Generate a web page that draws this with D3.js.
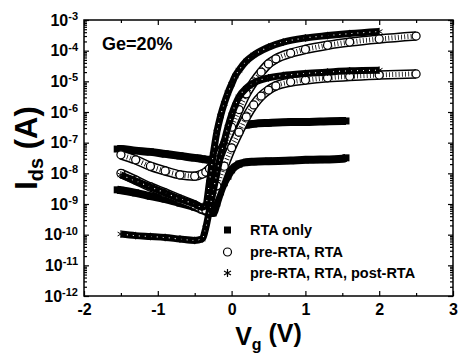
<!DOCTYPE html>
<html><head><meta charset="utf-8">
<script src="https://cdn.jsdelivr.net/npm/d3@7"></script>
<style>
body{margin:0;background:#fff}
text{font-family:"Liberation Sans",Arial,sans-serif;font-weight:bold;fill:#000}
</style>
</head><body><svg id="c" width="461" height="357"></svg>
<script>
// ---- data ----
const xTicks = [-2, -1, 0, 1, 2, 3];
const yTicks = [1e-12,1e-11,1e-10,1e-9,1e-8,1e-7,1e-6,1e-5,1e-4,1e-3];
const seriesNames = ["RTA only", "pre-RTA, RTA", "pre-RTA, RTA, post-RTA"];

const vgRTA = [-1.55,-1.5,-1.3,-1.1,-0.9,-0.7,-0.5,-0.4,-0.3,-0.25,-0.2,-0.15,-0.1,-0.05,0,0.1,0.2,0.3,0.5,0.8,1.0,1.2,1.5,1.55];
const idRTAhigh = [6.2e-8,6.2e-8,5.5e-8,5.0e-8,4.3e-8,3.7e-8,3.2e-8,2.95e-8,2.75e-8,2.95e-8,4.0e-8,5.8e-8,9.1e-8,1.4e-7,2.1e-7,3.2e-7,3.8e-7,4.1e-7,4.4e-7,4.7e-7,4.7e-7,4.9e-7,5.1e-7,5.1e-7];
const idRTAlow = [2.9e-9,2.8e-9,2.3e-9,1.8e-9,1.45e-9,1.07e-9,7.9e-10,6.4e-10,5.1e-10,5.1e-10,1.07e-9,2.5e-9,4.9e-9,8.1e-9,1.3e-8,2.0e-8,2.3e-8,2.4e-8,2.5e-8,2.6e-8,2.75e-8,2.8e-8,3.0e-8,3.2e-8];

const vgPre = [-1.5,-1.3,-1.1,-0.9,-0.7,-0.5,-0.4,-0.35,-0.3,-0.2,-0.1,0,0.1,0.2,0.3,0.4,0.5,0.6,0.8,1.0,1.3,1.6,2.0,2.5];
const idPreHigh = [4.0e-8,2.75e-8,1.7e-8,1.2e-8,8.9e-9,8.1e-9,9.5e-9,1.1e-8,1.4e-8,2.75e-8,8.3e-8,3.2e-7,1.2e-6,3.9e-6,9.5e-6,2.0e-5,3.7e-5,5.4e-5,8.3e-5,1.1e-4,1.5e-4,1.9e-4,2.4e-4,3.0e-4];
const idPreLow = [1.0e-8,6.0e-9,3.6e-9,2.3e-9,1.45e-9,9.3e-10,6.9e-10,6.4e-10,1.0e-9,3.9e-9,1.7e-8,6.8e-8,2.2e-7,6.9e-7,1.7e-6,3.3e-6,5.2e-6,7.1e-6,9.5e-6,1.1e-5,1.3e-5,1.45e-5,1.6e-5,1.75e-5];

const vgPost = [-1.5,-1.3,-1.1,-0.9,-0.7,-0.5,-0.4,-0.35,-0.3,-0.25,-0.2,-0.15,-0.1,-0.05,0,0.05,0.1,0.2,0.3,0.5,0.7,1.0,1.3,1.6,2.0];
const idPostHigh = [8.9e-9,5.6e-9,3.6e-9,2.3e-9,1.45e-9,1.0e-9,7.9e-10,9.3e-10,5.2e-9,4.0e-8,2.2e-7,7.4e-7,1.9e-6,4.2e-6,8.1e-6,1.5e-5,2.3e-5,4.6e-5,7.2e-5,1.3e-4,1.9e-4,2.6e-4,3.1e-4,3.6e-4,4.2e-4];
const idPostLow = [1.05e-10,9.3e-11,8.7e-11,8.1e-11,7.2e-11,6.5e-11,7.2e-11,1.65e-10,6.4e-10,2.6e-9,1.0e-8,3.7e-8,1.1e-7,3.2e-7,8.0e-7,1.7e-6,3.1e-6,6.0e-6,8.9e-6,1.3e-5,1.55e-5,1.8e-5,2.0e-5,2.2e-5,2.3e-5];

// ---- layout ----
const svg = d3.select("#c");
const L = 84, R = 453, T = 20, B = 296;
const x = d3.scaleLinear().domain([-2, 3]).range([L, R]);
const y = d3.scaleLog().domain([1e-12, 1e-3]).range([B, T]);

const zip = (vg, id) => vg.map((v, i) => [v, id[i]]);
const line = d3.line().x(d => x(d[0])).y(d => y(d[1])).curve(d3.curveMonotoneX);

const plot = svg.append("g");

// RTA only: solid black squares
[idRTAhigh, idRTAlow].forEach(arr => {
  const data = zip(vgRTA, arr);
  plot.append("path").attr("d", line(data)).attr("fill", "none")
    .attr("stroke", "#000").attr("stroke-width", 8);
  plot.selectAll(null).data(data).enter().append("rect")
    .attr("x", d => x(d[0]) - 3.5).attr("y", d => y(d[1]) - 3.5)
    .attr("width", 7).attr("height", 7).attr("fill", "#000");
});

// pre-RTA, RTA: open circles
[idPreHigh, idPreLow].forEach(arr => {
  const data = zip(vgPre, arr);
  const d = line(data);
  plot.append("path").attr("d", d).attr("fill", "none").attr("stroke", "#000").attr("stroke-width", 9.5);
  plot.append("path").attr("d", d).attr("fill", "none").attr("stroke", "#fff").attr("stroke-width", 6.5);
  plot.append("path").attr("d", d).attr("fill", "none").attr("stroke", "#000").attr("stroke-width", 5)
    .attr("stroke-dasharray", "0.8,2.4");
  plot.selectAll(null).data(data).enter().append("circle")
    .attr("cx", d => x(d[0])).attr("cy", d => y(d[1])).attr("r", 4)
    .attr("fill", "#fff").attr("stroke", "#000").attr("stroke-width", 1.2);
});

// post-RTA: asterisks
const ast = d3.symbol().type(d3.symbolAsterisk).size(40);
[idPostHigh, idPostLow].forEach(arr => {
  const data = zip(vgPost, arr);
  const d = line(data);
  plot.append("path").attr("d", d).attr("fill", "none").attr("stroke", "#000").attr("stroke-width", 7);
  plot.append("path").attr("d", d).attr("fill", "none").attr("stroke", "#fff").attr("stroke-width", 1.1)
    .attr("stroke-dasharray", "1,5");
  plot.selectAll(null).data(data).enter().append("path")
    .attr("d", ast).attr("transform", d => `translate(${x(d[0])},${y(d[1])})`)
    .attr("fill", "none").attr("stroke", "#000").attr("stroke-width", 1);
});

// ---- axes ----
const minorX = d3.range(-1.5, 3, 1);
const minorY = [];
for (let e = -12; e < -3; e++) for (let m = 2; m <= 9; m++) minorY.push(m * Math.pow(10, e));

function styleAxis(g) {
  g.select(".domain").remove();
  g.selectAll(".tick line").attr("stroke", "#000").attr("stroke-width", 1.2);
}
// bottom
svg.append("g").attr("transform", `translate(0,${B})`)
  .call(d3.axisBottom(x).tickValues(xTicks).tickSize(-5).tickPadding(8).tickFormat(d3.format("d")))
  .call(styleAxis)
  .call(g => g.selectAll(".tick text").attr("font-size", "16px")
    .attr("font-family", "'Liberation Sans',Arial,sans-serif").attr("font-weight", "bold").text(d => String(d)));
svg.append("g").attr("transform", `translate(0,${B})`)
  .call(d3.axisBottom(x).tickValues(minorX).tickSize(-3).tickFormat("")).call(styleAxis);
// top
svg.append("g").attr("transform", `translate(0,${T})`)
  .call(d3.axisTop(x).tickValues(xTicks).tickSize(-5).tickFormat("")).call(styleAxis);
svg.append("g").attr("transform", `translate(0,${T})`)
  .call(d3.axisTop(x).tickValues(minorX).tickSize(-3).tickFormat("")).call(styleAxis);
// left
svg.append("g").attr("transform", `translate(${L},0)`)
  .call(d3.axisLeft(y).tickValues(yTicks).tickSize(-5).tickPadding(6))
  .call(styleAxis)
  .call(g => g.selectAll(".tick text").each(function(d) {
    const t = d3.select(this);
    const e = Math.round(Math.log10(d));
    t.text(null).attr("font-size", "16px").attr("font-family", "'Liberation Sans',Arial,sans-serif")
      .attr("font-weight", "bold").attr("x", -6);
    t.append("tspan").text("10");
    t.append("tspan").attr("dy", "-0.5em").attr("font-size", "11px").text(String(e));
  }));
svg.append("g").attr("transform", `translate(${L},0)`)
  .call(d3.axisLeft(y).tickValues(minorY).tickSize(-3).tickFormat("")).call(styleAxis);
// right
svg.append("g").attr("transform", `translate(${R},0)`)
  .call(d3.axisRight(y).tickValues(yTicks).tickSize(-5).tickFormat("")).call(styleAxis);
svg.append("g").attr("transform", `translate(${R},0)`)
  .call(d3.axisRight(y).tickValues(minorY).tickSize(-3).tickFormat("")).call(styleAxis);

// frame
svg.append("rect").attr("x", L).attr("y", T).attr("width", R - L).attr("height", B - T)
  .attr("fill", "none").attr("stroke", "#000").attr("stroke-width", 1.5);

// axis titles
const xt = svg.append("text").attr("x", (L + R) / 2).attr("y", 345).attr("text-anchor", "middle")
  .attr("font-size", "25px");
xt.append("tspan").text("V");
xt.append("tspan").attr("font-size", "16px").attr("dy", "0.3em").text("g");
xt.append("tspan").attr("dy", "-0.3em").text("\u00a0(V)");

const yt = svg.append("text").attr("transform", "translate(37,148) rotate(-90)")
  .attr("text-anchor", "middle").attr("font-size", "31px");
yt.append("tspan").text("I");
yt.append("tspan").attr("font-size", "20px").attr("dy", "0.3em").text("ds");
yt.append("tspan").attr("dy", "-0.2em").text("\u00a0(A)");

// annotation
svg.append("text").attr("x", 102).attr("y", 50).attr("font-size", "18px").text("Ge=20%");

// legend
const lg = svg.append("g");
const legY = [230, 252, 273];
lg.append("rect").attr("x", 224).attr("y", legY[0] - 3.5).attr("width", 7).attr("height", 7).attr("fill", "#000");
lg.append("circle").attr("cx", 227.5).attr("cy", legY[1]).attr("r", 4).attr("fill", "#fff").attr("stroke", "#000").attr("stroke-width", 1.2);
lg.append("path").attr("d", d3.symbol().type(d3.symbolAsterisk).size(45)).attr("transform", `translate(227.5,${legY[2]})`)
  .attr("fill", "none").attr("stroke", "#000").attr("stroke-width", 1.2);
seriesNames.forEach((n, i) => {
  lg.append("text").attr("x", 250).attr("y", legY[i] + 5).attr("font-size", "14.5px").text(n);
});
</script>
</body></html>
